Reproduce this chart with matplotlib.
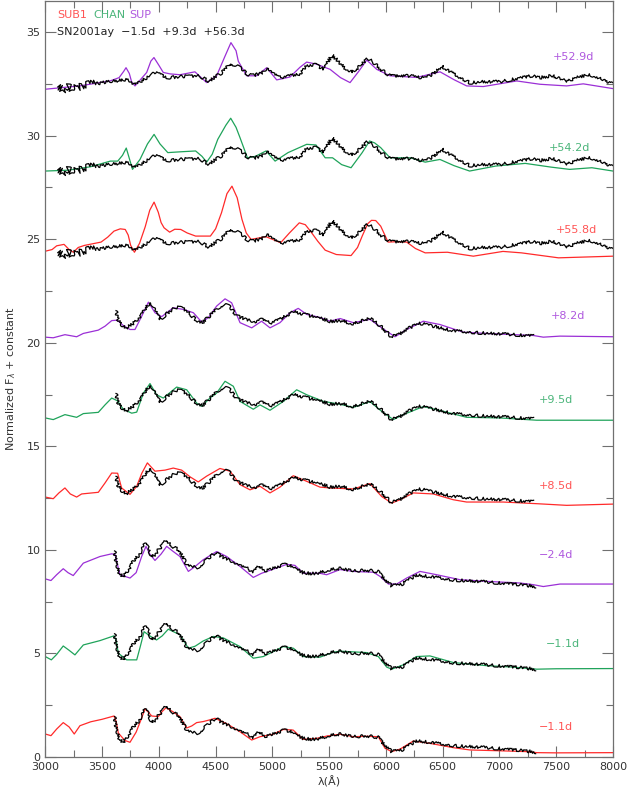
import matplotlib
matplotlib.use("Agg")
import matplotlib.pyplot as plt
from matplotlib.ticker import MultipleLocator

# colours of the three model families
RED = '#ff2a2a'
GREEN = '#1fa35a'
PURPLE = '#9b2fd6'

# observed SN2001ay spectra (wavelength in A, normalized flux)
obs_early = [(3610, 1.95), (3625, 1.3), (3650, 0.9), (3680, 0.7), (3710, 0.85), (3740, 1.1),
             (3770, 1.4), (3800, 1.6), (3840, 1.85), (3880, 2.33), (3910, 2.05), (3940, 1.65),
             (3970, 1.8), (4010, 2.1), (4060, 2.45), (4100, 2.25), (4140, 2.1), (4180, 2.0),
             (4215, 1.6), (4250, 1.25), (4300, 1.2), (4340, 1.15), (4400, 1.4), (4460, 1.7),
             (4500, 1.88), (4560, 1.65), (4620, 1.5), (4700, 1.25), (4780, 1.1), (4830, 0.92),
             (4880, 1.2), (4940, 1.0), (5000, 1.1), (5100, 1.3), (5150, 1.25), (5210, 1.07),
             (5270, 0.9), (5350, 0.85), (5420, 0.9), (5510, 1.06), (5600, 1.1), (5710, 0.98),
             (5830, 1.02), (5930, 0.95), (5990, 0.58), (6050, 0.26), (6140, 0.34), (6270, 0.79),
             (6390, 0.71), (6590, 0.55), (6830, 0.47), (7030, 0.39), (7240, 0.29), (7320, 0.23)]

obs_mid = [(3623, 1.55), (3640, 1.1), (3670, 0.85), (3710, 0.7), (3750, 0.85), (3790, 1.0),
           (3834, 1.25), (3878, 1.6), (3915, 1.92), (3935, 1.85), (3966, 1.55), (4010, 1.13),
           (4050, 1.3), (4090, 1.5), (4150, 1.7), (4190, 1.72), (4230, 1.6), (4270, 1.4),
           (4333, 1.08), (4385, 0.98), (4440, 1.25), (4509, 1.65), (4570, 1.85), (4620, 1.77),
           (4686, 1.3), (4774, 1.11), (4850, 0.98), (4905, 1.13), (4979, 0.95), (5067, 1.13),
           (5184, 1.51), (5280, 1.38), (5360, 1.26), (5450, 1.14), (5508, 1.03), (5596, 1.07),
           (5713, 0.92), (5860, 1.18), (5948, 0.83), (6040, 0.33), (6090, 0.32), (6183, 0.66),
           (6300, 0.94), (6417, 0.8), (6594, 0.58), (6760, 0.5), (6950, 0.44), (7100, 0.4),
           (7300, 0.33)]

obs_late = [(3110, 0.35), (3150, 0.2), (3200, 0.4), (3240, 0.25), (3280, 0.34), (3350, 0.45),
            (3443, 0.5), (3530, 0.58), (3605, 0.63), (3700, 0.7), (3736, 0.67), (3790, 0.45),
            (3840, 0.6), (3880, 0.75), (3930, 0.97), (3997, 1.02), (4040, 0.85), (4095, 0.8),
            (4180, 0.85), (4257, 0.88), (4357, 0.88), (4438, 0.63), (4500, 0.85), (4552, 1.02),
            (4625, 1.5), (4690, 1.35), (4732, 1.23), (4780, 0.95), (4830, 0.91), (4910, 1.02),
            (4955, 1.25), (5000, 1.0), (5073, 0.8), (5160, 0.9), (5237, 0.95), (5300, 1.37),
            (5375, 1.45), (5449, 1.2), (5525, 1.88), (5580, 1.6), (5628, 1.3), (5705, 1.07),
            (5760, 1.3), (5835, 1.7), (5880, 1.6), (5954, 1.2), (6036, 0.88), (6130, 0.9),
            (6215, 0.88), (6346, 0.78), (6420, 1.0), (6491, 1.36), (6560, 1.1), (6639, 0.85),
            (6741, 0.55), (6850, 0.6), (7005, 0.6), (7100, 0.7), (7200, 0.8), (7280, 0.88),
            (7360, 0.8), (7460, 0.9), (7540, 0.75), (7592, 0.6), (7680, 0.8), (7780, 0.93),
            (7880, 0.8), (8000, 0.5)]

# model spectra
sub1_early = [(3000, 1.11), (3050, 1.03), (3100, 1.35), (3158, 1.66), (3210, 1.45), (3255, 1.11),
              (3305, 1.51), (3400, 1.7), (3500, 1.82), (3605, 1.98), (3625, 1.7), (3643, 1.16),
              (3700, 0.8), (3746, 0.71), (3800, 1.2), (3850, 1.9), (3878, 2.32), (3910, 2.15),
              (3937, 1.98), (3995, 1.95), (4030, 2.2), (4063, 2.38), (4120, 2.2), (4186, 1.95),
              (4245, 1.4), (4290, 1.5), (4333, 1.66), (4390, 1.71), (4440, 1.78), (4495, 1.87),
              (4597, 1.61), (4715, 1.22), (4818, 0.82), (4891, 0.98), (5006, 1.1), (5097, 1.33),
              (5183, 1.3), (5270, 0.85), (5390, 0.9), (5478, 1.01), (5596, 1.1), (5713, 0.98),
              (5831, 1.0), (5933, 0.98), (5992, 0.42), (6051, 0.26), (6124, 0.38), (6241, 0.77),
              (6388, 0.66), (6594, 0.45), (6740, 0.34), (7004, 0.3), (7240, 0.26), (7328, 0.21),
              (7500, 0.2), (8000, 0.21)]

chan_early = [(3000, 0.85), (3053, 0.69), (3100, 0.95), (3158, 1.36), (3210, 1.15), (3261, 0.93),
              (3335, 1.41), (3482, 1.62), (3605, 1.85), (3625, 1.6), (3643, 1.01), (3717, 0.69),
              (3805, 0.69), (3835, 1.3), (3870, 2.05), (3920, 1.85), (3980, 1.65), (4030, 1.85),
              (4083, 2.17), (4186, 1.9), (4260, 1.25), (4320, 1.35), (4390, 1.6), (4480, 1.82),
              (4568, 1.75), (4715, 1.33), (4832, 0.77), (4920, 0.85), (5008, 1.09), (5096, 1.33),
              (5185, 1.25), (5272, 0.85), (5419, 0.82), (5537, 1.06), (5596, 1.11), (5831, 1.04),
              (5933, 0.85), (6007, 0.34), (6051, 0.24), (6153, 0.45), (6270, 0.85), (6388, 0.88),
              (6594, 0.56), (6887, 0.41), (7122, 0.34), (7328, 0.24), (7500, 0.26), (8000, 0.27)]

sup_early = [(3000, 0.6), (3050, 0.52), (3100, 0.8), (3158, 1.09), (3200, 0.9), (3246, 0.76),
             (3335, 1.36), (3482, 1.68), (3585, 1.81), (3614, 1.78), (3635, 1.3), (3658, 0.8),
             (3746, 0.64), (3800, 0.9), (3850, 1.7), (3887, 2.17), (3920, 1.8), (3966, 1.49),
             (4020, 1.8), (4069, 2.17), (4120, 1.95), (4186, 1.68), (4260, 0.96), (4320, 1.2),
             (4390, 1.52), (4509, 1.92), (4597, 1.68), (4715, 1.2), (4832, 0.67), (4905, 0.87),
             (5008, 1.07), (5126, 1.3), (5199, 1.25), (5272, 0.87), (5419, 0.87), (5478, 0.8),
             (5596, 1.05), (5713, 0.96), (5890, 0.92), (5948, 0.72), (6022, 0.35), (6095, 0.35),
             (6183, 0.64), (6300, 0.96), (6447, 0.8), (6653, 0.56), (6887, 0.48), (7180, 0.4),
             (7298, 0.32), (7386, 0.23), (7533, 0.35), (8000, 0.35)]

sub1_mid = [(3000, 0.55), (3070, 0.47), (3120, 0.75), (3173, 0.99), (3220, 0.7), (3276, 0.55),
            (3320, 0.7), (3467, 0.78), (3526, 1.23), (3585, 1.71), (3637, 1.7), (3672, 0.99),
            (3746, 0.68), (3805, 1.07), (3850, 1.7), (3899, 2.2), (3966, 1.8), (4054, 1.85),
            (4127, 1.95), (4201, 1.85), (4274, 1.53), (4347, 1.28), (4421, 1.56), (4538, 1.93),
            (4627, 1.8), (4715, 1.15), (4803, 0.9), (4891, 1.07), (4979, 0.75), (5067, 1.03),
            (5184, 1.58), (5302, 1.31), (5419, 1.03), (5508, 0.99), (5713, 0.94), (5860, 1.2),
            (5962, 0.58), (6051, 0.26), (6124, 0.42), (6241, 0.75), (6417, 0.7), (6594, 0.42),
            (6711, 0.31), (7034, 0.31), (7328, 0.23), (7592, 0.15), (8000, 0.21)]

chan_mid = [(3000, 0.37), (3070, 0.29), (3173, 0.53), (3276, 0.4), (3335, 0.58), (3467, 0.64),
            (3526, 1.0), (3585, 1.33), (3634, 1.2), (3687, 0.79), (3761, 0.6), (3805, 0.65),
            (3864, 1.57), (3922, 2.03), (3980, 1.49), (4039, 1.33), (4157, 1.86), (4245, 1.73),
            (4333, 1.09), (4377, 0.93), (4450, 1.33), (4509, 1.57), (4583, 2.14), (4656, 1.9),
            (4715, 1.17), (4832, 0.79), (4891, 1.0), (4979, 0.74), (5097, 1.17), (5214, 1.73),
            (5302, 1.49), (5449, 1.17), (5596, 1.03), (5713, 0.88), (5860, 1.16), (5962, 0.69),
            (6065, 0.29), (6153, 0.53), (6329, 0.92), (6506, 0.69), (6711, 0.4), (7004, 0.37),
            (7328, 0.26), (8000, 0.26)]

sup_mid = [(3000, 0.27), (3070, 0.24), (3173, 0.39), (3276, 0.29), (3335, 0.45), (3467, 0.61),
           (3526, 0.8), (3585, 1.07), (3634, 1.09), (3687, 0.83), (3746, 0.64), (3790, 0.64),
           (3849, 1.28), (3908, 1.96), (3966, 1.45), (4025, 1.26), (4127, 1.69), (4216, 1.61),
           (4304, 1.45), (4377, 1.0), (4436, 1.21), (4509, 1.77), (4583, 2.12), (4641, 1.93),
           (4715, 0.97), (4818, 0.72), (4905, 1.04), (4979, 0.72), (5067, 0.97), (5155, 1.45),
           (5228, 1.66), (5302, 1.37), (5419, 1.22), (5508, 1.04), (5596, 1.17), (5713, 0.97),
           (5860, 1.13), (5962, 0.72), (6080, 0.29), (6183, 0.64), (6329, 1.04), (6476, 0.88),
           (6682, 0.51), (6887, 0.45), (7298, 0.35), (7386, 0.27), (7533, 0.32), (8000, 0.29)]

sub1_late = [(3000, 0.42), (3060, 0.5), (3100, 0.68), (3165, 0.75), (3210, 0.5), (3247, 0.37),
             (3290, 0.6), (3345, 0.7), (3491, 0.86), (3550, 1.1), (3605, 1.39), (3660, 1.5),
             (3704, 1.47), (3730, 1.2), (3752, 0.7), (3785, 0.37), (3830, 0.8), (3880, 1.6),
             (3920, 2.4), (3958, 2.79), (3995, 2.3), (4020, 1.8), (4046, 1.55), (4095, 1.34),
             (4140, 1.48), (4193, 1.47), (4250, 1.3), (4324, 1.15), (4454, 1.15), (4500, 1.5),
             (4552, 2.28), (4600, 3.2), (4644, 3.56), (4690, 3.0), (4732, 1.96), (4770, 1.3),
             (4812, 0.99), (4870, 1.05), (4944, 1.12), (5073, 0.83), (5150, 1.3), (5237, 1.79),
             (5290, 1.7), (5335, 1.39), (5400, 0.9), (5465, 0.47), (5563, 0.26), (5693, 0.21),
             (5750, 0.6), (5791, 1.15), (5840, 1.75), (5873, 1.91), (5910, 1.9), (5954, 1.63),
             (6019, 0.86), (6100, 0.88), (6183, 0.86), (6260, 0.55), (6346, 0.34), (6541, 0.37),
             (6770, 0.18), (7031, 0.41), (7194, 0.34), (7520, 0.1), (8000, 0.18)]

chan_late = [(3000, 0.29), (3200, 0.33), (3400, 0.5), (3573, 0.77), (3638, 0.77), (3680, 1.05),
             (3713, 1.4), (3740, 0.9), (3768, 0.37), (3834, 0.85), (3900, 1.6), (3958, 2.06),
             (4010, 1.6), (4079, 1.18), (4193, 1.22), (4324, 1.26), (4380, 1.0), (4421, 0.72),
             (4470, 1.1), (4519, 1.82), (4590, 2.5), (4633, 2.84), (4680, 2.4), (4715, 1.9),
             (4780, 0.93), (4850, 1.0), (4944, 1.26), (5024, 0.77), (5138, 1.18), (5302, 1.58),
             (5384, 1.55), (5465, 0.93), (5530, 0.93), (5610, 0.6), (5693, 0.45), (5791, 1.18),
             (5856, 1.74), (5900, 1.65), (5954, 1.42), (6036, 0.93), (6215, 0.93), (6346, 0.72),
             (6476, 0.85), (6600, 0.55), (6737, 0.29), (6966, 0.53), (7227, 0.66), (7454, 0.48),
             (7618, 0.37), (7814, 0.45), (8000, 0.29)]

sup_late = [(3000, 0.24), (3300, 0.4), (3570, 0.64), (3650, 0.8), (3690, 1.1), (3711, 1.28),
            (3740, 1.0), (3760, 0.6), (3790, 0.4), (3893, 1.05), (3930, 1.6), (3957, 1.77),
            (4000, 1.4), (4039, 1.05), (4100, 0.98), (4186, 0.94), (4318, 1.08), (4421, 0.56),
            (4509, 0.89), (4580, 1.8), (4635, 2.49), (4680, 2.1), (4700, 1.59), (4774, 0.89),
            (4862, 0.89), (4950, 1.28), (5038, 0.69), (5155, 0.83), (5243, 1.3), (5302, 1.55),
            (5390, 1.45), (5508, 1.2), (5600, 0.8), (5684, 0.56), (5760, 1.1), (5831, 1.65),
            (5919, 1.2), (6036, 0.89), (6271, 0.81), (6477, 1.08), (6600, 0.7), (6711, 0.4),
            (6858, 0.37), (7152, 0.64), (7357, 0.48), (7592, 0.4), (7738, 0.5), (8000, 0.27)]

# panels from bottom to top
models = [sub1_early, chan_early, sup_early, sub1_mid, chan_mid, sup_mid, sub1_late, chan_late, sup_late]
observed = [obs_early, obs_early, obs_early, obs_mid, obs_mid, obs_mid, obs_late, obs_late, obs_late]
colors = [RED, GREEN, PURPLE] * 3
offsets = [0, 4, 8, 12, 16, 20, 24, 28, 32]
phase_labels = ['\u22121.1d', '\u22121.1d', '\u22122.4d', '+8.5d', '+9.5d', '+8.2d',
                '+55.8d', '+54.2d', '+52.9d']
label_pos = [(7498, 1.47), (7557, 5.45), (7498, 9.73), (7498, 13.1), (7498, 17.22),
             (7600, 21.28), (7674, 25.44), (7618, 29.42), (7656, 33.78)]

fig = plt.figure(figsize=(6.27, 7.99), dpi=100)
ax = fig.add_axes([45.3 / 627, 42 / 799, (613 - 45.3) / 627, 756 / 799])

for mod, obs, col, off in zip(models, observed, colors, offsets):
    ax.plot([p[0] for p in mod], [p[1] + off for p in mod], color=col, lw=0.9,
            solid_joinstyle='round')
    # observed spectra look noisy: draw them with a sketch (jitter) style
    blue = [p for p in obs if p[0] <= 3450]
    rest = [p for p in obs if p[0] >= 3443]
    if blue:
        ln, = ax.plot([p[0] for p in blue], [p[1] + off for p in blue], color='black', lw=0.9)
        ln.set_sketch_params(scale=4, length=1.0, randomness=1.5)
    ln, = ax.plot([p[0] for p in rest], [p[1] + off for p in rest], color='black', lw=0.9)
    ln.set_sketch_params(scale=1.5, length=0.8, randomness=1.5)

for txt, (lx, ly), col in zip(phase_labels, label_pos, colors):
    ax.text(lx, ly, txt, color=col, fontsize=8, ha='center', va='center', alpha=0.8)

# legend-like header text
ax.text(3103, 35.83, 'SUB1', color=RED, fontsize=8, ha='left', va='center', alpha=0.8)
ax.text(3420, 35.83, 'CHAN', color=GREEN, fontsize=8, ha='left', va='center', alpha=0.8)
ax.text(3737, 35.83, 'SUP', color=PURPLE, fontsize=8, ha='left', va='center', alpha=0.8)
ax.text(3103, 35.0, 'SN2001ay  \u22121.5d  +9.3d  +56.3d', color='#222222', fontsize=8,
        ha='left', va='center')

ax.set_xlim(3000, 8000)
ax.set_ylim(0, 36.5)
ax.xaxis.set_major_locator(MultipleLocator(500))
ax.xaxis.set_minor_locator(MultipleLocator(250))
ax.yaxis.set_major_locator(MultipleLocator(5))
ax.yaxis.set_minor_locator(MultipleLocator(2.5))
ax.tick_params(which='both', direction='in', top=True, right=True, color='#707070',
               labelcolor='#333333', labelsize=8)
ax.tick_params(which='major', length=8, width=0.8)
ax.tick_params(which='minor', length=5, width=0.8)
for s in ax.spines.values():
    s.set_color('#707070')
    s.set_linewidth(0.9)

ax.set_xlabel('\u03bb(\u00c5)', fontsize=8, color='#333333', labelpad=3)
ax.set_ylabel('Normalized F$_\\lambda$ + constant', fontsize=8, color='#333333', labelpad=6)

fig.savefig('out.png', dpi=100)
